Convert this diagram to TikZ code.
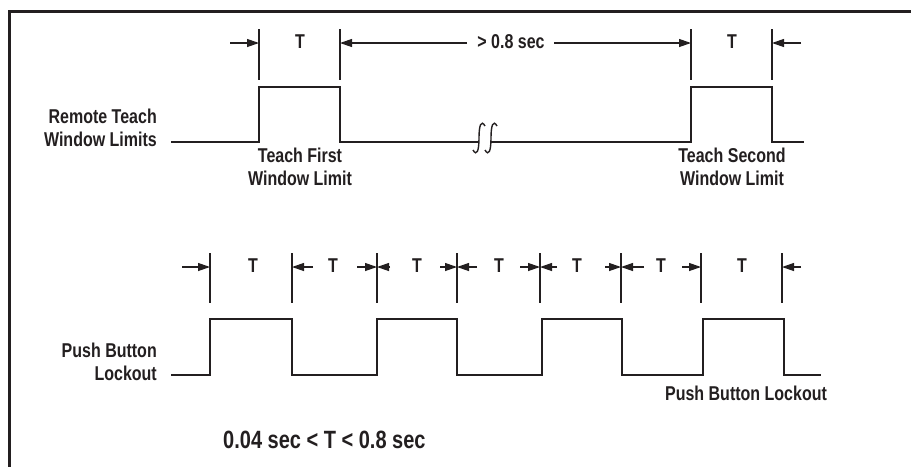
\documentclass[tikz,border=0pt]{standalone}
\usepackage{fontspec}
\setmainfont{Liberation Sans}[FakeStretch=0.8]
\usetikzlibrary{arrows.meta}
\definecolor{ink}{HTML}{231F20}
\begin{document}
\begin{tikzpicture}[x=1pt,y=-1pt,
  lbl/.style={font=\fontsize{20}{23}\selectfont\bfseries, inner sep=0pt, text=ink},
  big/.style={font=\fontsize{25}{28}\selectfont\bfseries, inner sep=0pt, text=ink},
  sig/.style={line width=1.6pt, draw=ink},
  tick/.style={line width=1.1pt, draw=ink},
  dim/.style={line width=1.2pt, draw=ink, -{Triangle[length=12pt,width=8pt]}},
  frm/.style={line width=3pt, draw=ink}]
\useasboundingbox (0,0) rectangle (911,467);
% frame
\draw[frm] (911,11) -- (9,11) -- (9,467);

% ---------- top waveform ----------
\node[lbl, anchor=east, align=right] (rtl) at (157,128) {Remote Teach\\Window Limits};
\coordinate (t0) at (171,142);
\coordinate (t1) at (259,142);
\coordinate (t2) at (259,87);
\coordinate (t3) at (340,87);
\coordinate (t4) at (340,142);
\coordinate (b1) at (479,142);
\coordinate (b2) at (491,142);
\coordinate (t5) at (691,142);
\coordinate (t6) at (691,87);
\coordinate (t7) at (772,87);
\coordinate (t8) at (772,142);
\coordinate (t9) at (804,142);
\draw[sig] (t0) -- (t1) -- (t2) -- (t3) -- (t4) -- (b1);
\draw[sig] (b2) -- (t5) -- (t6) -- (t7) -- (t8) -- (t9);
% break marks
\foreach \x in {479,491} {
  \draw[sig, line width=1.4pt] (\x+6,126) .. controls (\x+2,119) and (\x,126) .. (\x,138)
    .. controls (\x,150) and (\x-2,157) .. (\x-6,150);
}

% top ticks
\foreach \n/\x in {ta/259, tb/340, tc/691, td/772} {
  \coordinate (\n u) at (\x,29);
  \coordinate (\n d) at (\x,80);
  \coordinate (\n m) at (\x,43);
  \draw[tick] (\n u) -- (\n d);
}
\coordinate (a1) at (230,43);
\coordinate (a2) at (467,43);
\coordinate (a3) at (554,43);
\coordinate (a4) at (801,43);
\draw[dim] (a1) -- (tam);
\draw[dim] (a2) -- (tbm);
\draw[dim] (a3) -- (tcm);
\draw[dim] (a4) -- (tdm);
\node[lbl] (T1) at (300,42) {T};
\node[lbl] (T2) at (732,42) {T};
\node[lbl] (gt) at (511,42) {> 0.8 sec};
\node[lbl, align=center, anchor=north] (tf) at (300,148) {Teach First\\Window Limit};
\node[lbl, align=center, anchor=north] (ts) at (732,148) {Teach Second\\Window Limit};

% ---------- bottom waveform ----------
\node[lbl, anchor=east, align=right] (pbl) at (157,362) {Push Button\\Lockout};
\draw[sig] (171,375) -- (210,375) -- (210,319) -- (292,319) -- (292,375) -- (377,375)
  -- (377,319) -- (457,319) -- (457,375) -- (542,375) -- (542,319) -- (622,319)
  -- (622,375) -- (703,375) -- (703,319) -- (784,319) -- (784,375) -- (821,375);

\foreach \n/\x in {p1/210, p2/292, p3/377, p4/457, p5/540, p6/621, p7/701, p8/782} {
  \coordinate (\n u) at (\x,253);
  \coordinate (\n d) at (\x,303);
  \coordinate (\n m) at (\x,267);
  \draw[tick] (\n u) -- (\n d);
}
\foreach \n/\x in {q1/182, q2/313, q3/357, q4/390, q5/440, q6/477, q7/520, q8/557, q9/605, q10/644, q11/682, q12/801} {
  \coordinate (\n) at (\x,267);
}
\draw[dim] (q1) -- (p1m);
\draw[dim] (q2) -- (p2m);
\draw[dim] (q3) -- (p3m);
\draw[dim] (q4) -- (p3m);
\draw[dim] (q5) -- (p4m);
\draw[dim] (q6) -- (p4m);
\draw[dim] (q7) -- (p5m);
\draw[dim] (q8) -- (p5m);
\draw[dim] (q9) -- (p6m);
\draw[dim] (q10) -- (p6m);
\draw[dim] (q11) -- (p7m);
\draw[dim] (q12) -- (p8m);
\foreach \n/\x in {U1/253, U2/333, U3/417, U4/499, U5/577, U6/661, U7/742} {
  \node[lbl] (\n) at (\x,266) {T};
}
\node[lbl] (pbl2) at (746,393) {Push Button Lockout};
\node[big, anchor=west] (cond) at (223,440) {0.04 sec < T < 0.8 sec};
\end{tikzpicture}
\end{document}
